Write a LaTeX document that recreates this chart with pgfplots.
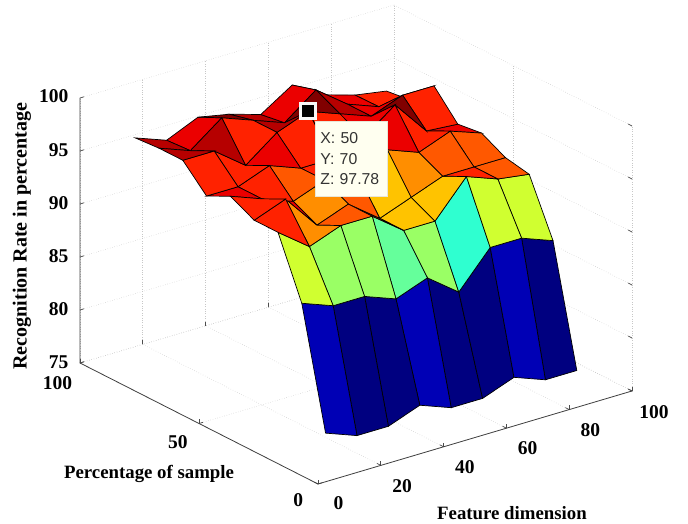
\documentclass[border=0pt]{standalone}
\usepackage{fontspec}
\setmainfont{Liberation Serif}
\newfontfamily\tipfont{Liberation Sans}
\usepackage{pgfplots}
\pgfplotsset{compat=1.18}
\pgfplotsset{colormap={myjet}{rgb255=(0,0,128) rgb255=(0,0,255) rgb255=(0,128,255) rgb255=(0,255,255) rgb255=(128,255,128) rgb255=(255,255,0) rgb255=(255,128,0) rgb255=(255,0,0) rgb255=(128,0,0)}}
\begin{document}
\begin{tikzpicture}[x=1pt,y=1pt]
\path[use as bounding box] (0,0) rectangle (688,524);
\begin{axis}[
  at={(318pt,40pt)}, anchor=origin,
  x={(3.14pt,0.93pt)}, y={(-2.38pt,1.21pt)}, z={(0pt,10.6pt)},
  xmin=0,xmax=100,ymin=0,ymax=100,zmin=75,zmax=100,
  xtick={0,20,40,60,80,100}, ytick={0,50,100}, ztick={75,80,85,90,95,100},
  tick pos=left,
  grid=major,
  grid style={dotted, black!22, line width=0.6pt},
  axis line style={draw=none},
  tick style={black!70, line width=0.7pt},
  clip=false,
  colormap name=myjet,
  point meta min=76.67, point meta max=97.78,
  tick label style={font=\fontsize{19.5}{21}\selectfont\bfseries},
  x tick label style={xshift=14pt,yshift=-8.5pt},
  y tick label style={xshift=-12pt,yshift=-6pt},
  z tick label style={xshift=-8pt},
  /pgf/number format/assume math mode=true,
  xlabel={Feature dimension}, ylabel={Percentage of sample}, zlabel={Recognition Rate in percentage},
  every axis x label/.style={at={(axis cs:27.6,-45.1,75)},anchor=center,font=\fontsize{18.8}{21}\selectfont\bfseries},
  every axis y label/.style={at={(axis cs:-30,31.4,75)},anchor=center,font=\fontsize{18.8}{21}\selectfont\bfseries},
  every axis z label/.style={at={(axis cs:-18.5,100,88.6)},anchor=center,rotate=90,font=\fontsize{20}{22}\selectfont\bfseries},
]
\addplot3[surf, shader=flat corner, draw=black, line width=0.7pt, z buffer=sort, mesh/cols=9] table {
10 10 77.78
20 10 76.67
30 10 76.67
40 10 77.78
50 10 76.67
60 10 76.67
70 10 77.78
80 10 76.67
90 10 76.67
10 20 88.89
20 20 87.78
30 20 87.78
40 20 86.67
50 20 87.78
60 20 85.56
70 20 88.89
80 20 88.89
90 20 87.78
10 30 94.44
20 30 92.22
30 30 93.33
40 30 93.33
50 30 91.11
60 30 91.11
70 30 94.44
80 30 93.33
90 30 92.9
10 40 94.44
20 40 95.56
30 40 92.22
40 40 93.33
50 40 91.11
60 40 92.22
70 40 93.33
80 40 93.33
90 40 93.33
10 50 95.56
20 50 94.44
30 50 93.33
40 50 94.44
50 50 94.44
60 50 95.56
70 50 94.44
80 50 95.56
90 50 94.5
10 60 94.44
20 60 94.44
30 60 95.56
40 60 94.44
50 60 94.44
60 60 95.56
70 60 97.78
80 60 94.44
90 60 94.2
10 70 96.67
20 70 96.67
30 70 94.44
40 70 96.67
50 70 97.78
60 70 96.67
70 70 95.56
80 70 96.67
90 70 96.67
10 80 96.67
20 80 95.56
30 80 97.78
40 80 96.67
50 80 95.56
60 80 97.78
70 80 95.56
80 80 94.44
90 80 94.2
10 90 96.5
20 90 95.4
30 90 96.7
40 90 96.1
50 90 95.2
60 90 97.1
70 90 95.3
80 90 94.4
90 90 93.9
};
\addplot3[only marks, point meta=none, mark=square*, mark size=7.5pt, mark options={draw=black!3!white, fill=black, line width=3.2pt}] coordinates {(50,70,97.78)};
\draw[black!75, line width=0.8pt] (axis cs:0,100,100) -- (axis cs:0,100,75) -- (axis cs:0,0,75) -- (axis cs:100,0,75);
\node[anchor=north west, fill={rgb,255:red,255;green,255;blue,240}, draw={rgb,255:red,232;green,230;blue,215}, line width=1pt,
  font=\tipfont\fontsize{15.8}{20.5}\selectfont, align=left, text=black!80, text width=62pt, minimum height=75pt, inner xsep=5pt, inner ysep=4pt, xshift=6.5pt, yshift=-9.5pt]
  at (axis cs:50,70,97.78) {X: 50\\Y: 70\\Z: 97.78};
\end{axis}
\end{tikzpicture}
\end{document}
